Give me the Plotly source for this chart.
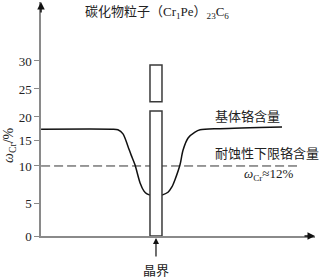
import plotly.graph_objects as go

# Chromium content curve (position relative to grain boundary, arbitrary units; Cr content in drawing units)
curve_left_x = [-38.3, -14.7, -12.7, -11.0, -9.3, -8.3, -7.0, -5.3, -4.0, -3.0, -2.0]
curve_left_y = [18.3, 18.3, 18.2, 17.5, 15.3, 13.9, 12.2, 9.1, 7.7, 7.2, 7.0]
curve_right_x = [2.0, 4.0, 5.3, 6.3, 8.0, 9.0, 10.7, 13.0, 14.7, 21.3, 42.0]
curve_right_y = [7.0, 7.5, 8.4, 9.6, 12.2, 14.7, 16.8, 17.8, 18.2, 18.4, 18.7]

# grain boundary with carbide particles
boundary_x = [-2.0, 2.0]
lower_bar_y = [0.0, 21.4]
upper_bar_y = [23.0, 29.3]

# lower limit for corrosion resistance
limit_y = 12.0
limit_x = [-38.3, 47.0]

tick_vals = [0, 5.5, 12.0, 16.3, 20.4, 25.2, 30.0]
tick_text = ["0", "5", "10", "15", "20", "25", "30"]

FONT = "Liberation Serif, Times New Roman, Noto Sans CJK SC, serif"
AXIS_COLOR = "#8a8a8a"
TEXT_COLOR = "#222222"

fig = go.Figure()

fig.add_trace(go.Scatter(x=limit_x, y=[limit_y, limit_y], mode="lines",
                         line=dict(color="#333333", width=1, dash="9px,4px"),
                         hoverinfo="skip", showlegend=False))
fig.add_trace(go.Scatter(x=curve_left_x, y=curve_left_y, mode="lines",
                         line=dict(color="#111111", width=1.5, shape="spline", smoothing=0.8),
                         showlegend=False))
fig.add_trace(go.Scatter(x=curve_right_x, y=curve_right_y, mode="lines",
                         line=dict(color="#111111", width=1.5, shape="spline", smoothing=0.8),
                         showlegend=False))

for ys in (lower_bar_y, upper_bar_y):
    fig.add_shape(type="rect", xref="x", yref="y",
                  x0=boundary_x[0], x1=boundary_x[1], y0=ys[0], y1=ys[1],
                  line=dict(color="#3a3a3a", width=1.5), fillcolor="white", layer="above")

# axis arrowheads
fig.add_annotation(xref="paper", yref="paper", x=0, y=1, ax=0, ay=12, text="",
                   showarrow=True, arrowhead=2, arrowsize=1, arrowwidth=1.5, arrowcolor="#111111")
fig.add_annotation(xref="paper", yref="paper", x=1, y=0, ax=-12, ay=0, text="",
                   showarrow=True, arrowhead=2, arrowsize=1, arrowwidth=1.5, arrowcolor="#111111")

# grain boundary arrow and label
fig.add_annotation(xref="x", yref="paper", x=0, y=0, ax=0, ay=20, yshift=-2, text="",
                   showarrow=True, arrowhead=2, arrowsize=1, arrowwidth=1.2, arrowcolor="#111111")
fig.add_annotation(xref="x", yref="paper", x=0, y=0, yshift=-44, text="晶界",
                   showarrow=False, font=dict(family=FONT, size=13, color=TEXT_COLOR))

# texts
fig.add_annotation(xref="paper", yref="paper", x=0.153, y=0.957, xanchor="left", yanchor="middle",
                   text="碳化物粒子（Cr<sub>1</sub>Pe）<sub>23</sub>C<sub>6</sub>", showarrow=False,
                   font=dict(family=FONT, size=13, color=TEXT_COLOR))
fig.add_annotation(xref="x", yref="y", x=19.0, y=20.5, xanchor="left", yanchor="middle",
                   text="基体铬含量", showarrow=False,
                   font=dict(family=FONT, size=13, color=TEXT_COLOR))
fig.add_annotation(xref="x", yref="y", x=19.0, y=14.2, xanchor="left", yanchor="middle",
                   text="耐蚀性下限铬含量", showarrow=False,
                   font=dict(family=FONT, size=13, color=TEXT_COLOR))
fig.add_annotation(xref="x", yref="y", x=28.7, y=10.5, xanchor="left", yanchor="middle",
                   text="<i>ω</i><sub>Cr</sub>≈12%", showarrow=False,
                   font=dict(family=FONT, size=13, color=TEXT_COLOR))
fig.add_annotation(xref="paper", yref="y", x=0, xshift=-31, y=15.6, xanchor="center", yanchor="middle",
                   text="<i>ω</i><sub>Cr</sub>/%", textangle=-90, showarrow=False,
                   font=dict(family=FONT, size=14, color=TEXT_COLOR))

fig.update_layout(
    width=323, height=279,
    margin=dict(l=41, r=8, t=2, b=43),
    plot_bgcolor="white", paper_bgcolor="white",
    showlegend=False,
    xaxis=dict(range=[-38.33, 53.0], showgrid=False, zeroline=False,
               showline=True, linecolor=AXIS_COLOR, linewidth=1.5,
               showticklabels=False, ticks=""),
    yaxis=dict(range=[0, 40.1], showgrid=False, zeroline=False,
               showline=True, linecolor=AXIS_COLOR, linewidth=1.5,
               tickmode="array", tickvals=tick_vals, ticktext=tick_text,
               ticks="outside", ticklen=5, tickcolor=AXIS_COLOR, tickwidth=1,
               tickfont=dict(family=FONT, size=13, color=TEXT_COLOR)),
)

fig.write_html("out.html")
